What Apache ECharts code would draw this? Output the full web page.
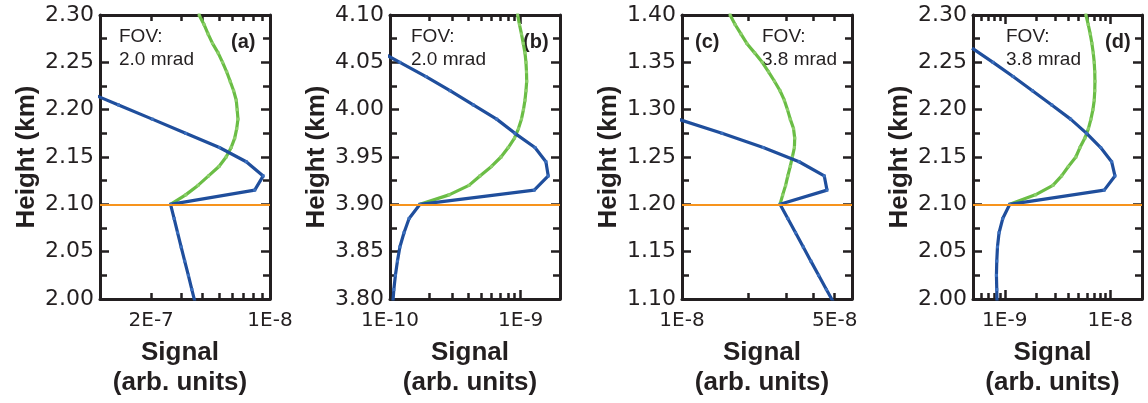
<!DOCTYPE html>
<html><head><meta charset="utf-8">
<script src="https://cdn.jsdelivr.net/npm/echarts@6/dist/echarts.min.js"></script>
<style>html,body{margin:0;padding:0;background:#fff}#c{width:1148px;height:403px}</style>
</head><body><div id="c"></div>
<script>
// ---------- Panel (a) ----------
const blueHeightA = [2.22, 2.205, 2.19, 2.175, 2.16, 2.145, 2.13, 2.115, 2.10, 2.085, 2.07, 2.055, 2.04, 2.025, 2.01, 1.995];
const blueSignalA = [8.1e-10, 1.285e-9, 2.03e-9, 3.19e-9, 5.04e-9, 7.25e-9, 9.12e-9, 8.13e-9, 2.6e-9, 2.73e-9, 2.86e-9, 3.00e-9, 3.15e-9, 3.31e-9, 3.47e-9, 3.64e-9];
const greenHeightA = [2.10, 2.11, 2.12, 2.13, 2.14, 2.15, 2.16, 2.17, 2.18, 2.19, 2.20, 2.21, 2.22, 2.23, 2.24, 2.25, 2.26, 2.27, 2.28, 2.29, 2.30];
const greenSignalA = [2.60e-9, 3.19e-9, 3.77e-9, 4.35e-9, 5.01e-9, 5.52e-9, 5.91e-9, 6.20e-9, 6.37e-9, 6.48e-9, 6.41e-9, 6.33e-9, 6.11e-9, 5.83e-9, 5.56e-9, 5.26e-9, 4.95e-9, 4.59e-9, 4.32e-9, 4.09e-9, 3.83e-9];
const xTickMinorA = [2e-9, 3e-9, 4e-9, 5e-9, 6e-9, 7e-9, 8e-9, 9e-9];
const xTickMajorA = [];
const xLabelValA = [2e-9, 1e-8];
const xLabelTextA = ['2E-7', '1E-8'];

// ---------- Panel (b) ----------
const blueHeightB = [4.065, 4.05, 4.035, 4.02, 4.005, 3.99, 3.975, 3.96, 3.945, 3.93, 3.915, 3.90, 3.885, 3.87, 3.855, 3.84, 3.825, 3.81, 3.795];
const blueSignalB = [7.54e-11, 1.19e-10, 1.886e-10, 2.88e-10, 4.34e-10, 6.55e-10, 9.04e-10, 1.286e-9, 1.56e-9, 1.626e-9, 1.27e-9, 1.696e-10, 1.40e-10, 1.28e-10, 1.19e-10, 1.14e-10, 1.10e-10, 1.07e-10, 1.05e-10];
const greenHeightB = [3.90, 3.91, 3.92, 3.93, 3.94, 3.95, 3.96, 3.97, 3.98, 3.99, 4.00, 4.01, 4.02, 4.03, 4.04, 4.05, 4.06, 4.07, 4.08, 4.09, 4.10];
const greenSignalB = [1.696e-10, 2.83e-10, 4.02e-10, 4.88e-10, 5.98e-10, 7.07e-10, 8.04e-10, 8.97e-10, 9.62e-10, 1.014e-9, 1.050e-9, 1.079e-9, 1.098e-9, 1.112e-9, 1.108e-9, 1.098e-9, 1.079e-9, 1.047e-9, 1.014e-9, 9.79e-10, 9.48e-10];
const xTickMinorB = [2e-10, 3e-10, 4e-10, 5e-10, 6e-10, 7e-10, 8e-10, 9e-10];
const xTickMajorB = [1e-9];
const xLabelValB = [1e-10, 1e-9];
const xLabelTextB = ['1E-10', '1E-9'];

// ---------- Panel (c) ----------
const blueHeightC = [1.29, 1.275, 1.26, 1.245, 1.23, 1.215, 1.20, 1.185, 1.17, 1.155, 1.14, 1.125, 1.11, 1.095];
const blueSignalC = [0.96e-8, 1.524e-8, 2.355e-8, 3.436e-8, 4.48e-8, 4.61e-8, 2.81e-8, 3.05e-8, 3.31e-8, 3.59e-8, 3.89e-8, 4.22e-8, 4.58e-8, 4.98e-8];
const greenHeightC = [1.20, 1.21, 1.22, 1.23, 1.24, 1.25, 1.26, 1.27, 1.28, 1.29, 1.30, 1.31, 1.32, 1.33, 1.34, 1.35, 1.36, 1.37, 1.38, 1.39, 1.40];
const greenSignalC = [2.81e-8, 2.89e-8, 2.98e-8, 3.05e-8, 3.13e-8, 3.20e-8, 3.27e-8, 3.28e-8, 3.24e-8, 3.13e-8, 3.04e-8, 2.94e-8, 2.81e-8, 2.65e-8, 2.49e-8, 2.33e-8, 2.15e-8, 1.98e-8, 1.86e-8, 1.75e-8, 1.66e-8];
const xTickMinorC = [2e-8, 3e-8, 4e-8, 5e-8];
const xTickMajorC = [];
const xLabelValC = [1e-8, 5e-8];
const xLabelTextC = ['1E-8', '5E-8'];

// ---------- Panel (d) ----------
const blueHeightD = [2.265, 2.25, 2.235, 2.22, 2.205, 2.19, 2.175, 2.16, 2.145, 2.13, 2.115, 2.10, 2.085, 2.07, 2.055, 2.04, 2.025, 2.01, 1.995];
const blueSignalD = [4.9e-10, 7.74e-10, 1.199e-9, 1.83e-9, 2.79e-9, 4.21e-9, 5.97e-9, 8.11e-9, 1.031e-8, 1.108e-8, 8.77e-9, 1.116e-9, 0.957e-9, 0.883e-9, 0.853e-9, 0.84e-9, 0.834e-9, 0.84e-9, 0.845e-9];
const greenHeightD = [2.10, 2.11, 2.12, 2.13, 2.14, 2.15, 2.16, 2.17, 2.18, 2.19, 2.20, 2.21, 2.22, 2.23, 2.24, 2.25, 2.26, 2.27, 2.28, 2.29, 2.30];
const greenSignalD = [1.116e-9, 1.95e-9, 2.86e-9, 3.46e-9, 4.01e-9, 4.72e-9, 5.16e-9, 5.75e-9, 6.21e-9, 6.56e-9, 6.85e-9, 7.05e-9, 7.13e-9, 7.16e-9, 7.13e-9, 7.05e-9, 6.90e-9, 6.70e-9, 6.46e-9, 6.18e-9, 5.88e-9];
const xTickMinorD = [6e-10, 7e-10, 8e-10, 9e-10, 2e-9, 3e-9, 4e-9, 5e-9, 6e-9, 7e-9, 8e-9, 9e-9];
const xTickMajorD = [1e-9, 1e-8];
const xLabelValD = [1e-9, 1e-8];
const xLabelTextD = ['1E-9', '1E-8'];

// ---------- Axis ranges, annotations ----------
const xMins = [1e-9, 1e-10, 1e-8, 5e-10];
const xMaxs = [1e-8, 2e-9, 6e-8, 2e-8];
const yMins = [2.00, 3.80, 1.10, 2.00];
const yMaxs = [2.30, 4.10, 1.40, 2.30];
const refHeights = [2.10, 3.90, 1.20, 2.10];
const fovTexts = ['2.0 mrad', '2.0 mrad', '3.8 mrad', '3.8 mrad'];
const panelLetters = ['(a)', '(b)', '(c)', '(d)'];
const xTitle = 'Signal\n(arb. units)';
const yTitle = 'Height (km)';

const panels = [
  {bh: blueHeightA, bs: blueSignalA, gh: greenHeightA, gs: greenSignalA, minor: xTickMinorA, major: xTickMajorA, lv: xLabelValA, lt: xLabelTextA},
  {bh: blueHeightB, bs: blueSignalB, gh: greenHeightB, gs: greenSignalB, minor: xTickMinorB, major: xTickMajorB, lv: xLabelValB, lt: xLabelTextB},
  {bh: blueHeightC, bs: blueSignalC, gh: greenHeightC, gs: greenSignalC, minor: xTickMinorC, major: xTickMajorC, lv: xLabelValC, lt: xLabelTextC},
  {bh: blueHeightD, bs: blueSignalD, gh: greenHeightD, gs: greenSignalD, minor: xTickMinorD, major: xTickMajorD, lv: xLabelValD, lt: xLabelTextD}
];

// ---------- Styling / layout ----------
const BLACK = '#231f20', BLUE = '#1f4e9c', GREEN = '#6abd45', ORANGE = '#f7941d';
const gridLeft = [100, 390, 682, 973];
const gridWidth = [170, 170, 170, 169];
const fovX = [119, 411, 762, 1006];
const letterX = [231, 523, 695, 1105];

const grids = [], xAxes = [], yAxes = [], series = [], graphics = [];

panels.forEach((p, i) => {
  grids.push({left: gridLeft[i], width: gridWidth[i], top: 15, height: 288});
  const baseX = {type: 'log', logBase: 10, min: xMins[i], max: xMaxs[i], gridIndex: i,
    splitLine: {show: false}, minorTick: {show: false}, minorSplitLine: {show: false}};
  const lineOn = {show: true, onZero: false, lineStyle: {color: BLACK, width: 3}};
  const lineOff = {show: false, onZero: false};
  const fmt = v => {
    for (let k = 0; k < p.lv.length; k++) if (Math.abs(v / p.lv[k] - 1) < 1e-6) return p.lt[k];
    return '';
  };
  const mainX = xAxes.length;
  xAxes.push(Object.assign({}, baseX, {position: 'bottom', axisLine: lineOn,
    axisTick: {show: true, inside: true, length: 6, lineStyle: {color: BLACK, width: 2.5}, customValues: p.minor},
    axisLabel: {show: true, margin: 12, customValues: p.lv, formatter: fmt, fontFamily: 'DejaVu Sans', fontSize: 20, color: BLACK},
    name: xTitle, nameLocation: 'middle', nameGap: 39,
    nameTextStyle: {fontFamily: 'Liberation Sans', fontWeight: 'bold', fontSize: 26, lineHeight: 30, color: BLACK, padding: [0, 10, 0, 0]}}));
  xAxes.push(Object.assign({}, baseX, {position: 'top', axisLine: lineOn,
    axisTick: {show: true, inside: true, length: 6, lineStyle: {color: BLACK, width: 2.5}, customValues: p.minor},
    axisLabel: {show: false}}));
  if (p.major.length) {
    ['bottom', 'top'].forEach(pos => xAxes.push(Object.assign({}, baseX, {position: pos, axisLine: lineOff,
      axisTick: {show: true, inside: true, length: 9, lineStyle: {color: BLACK, width: 2.5}, customValues: p.major},
      axisLabel: {show: false}})));
  }
  const baseY = {type: 'value', min: yMins[i], max: yMaxs[i], interval: 0.05, gridIndex: i,
    splitLine: {show: false}, axisLine: lineOn,
    axisTick: {show: true, inside: true, length: 9, lineStyle: {color: BLACK, width: 2.5}},
    minorTick: {show: true, splitNumber: 2, length: 7, lineStyle: {color: BLACK, width: 2.5}}};
  const mainY = yAxes.length;
  yAxes.push(Object.assign({}, baseY, {position: 'left',
    axisLabel: {show: true, margin: 6, formatter: v => v.toFixed(2), fontFamily: 'DejaVu Sans', fontSize: 22, color: BLACK},
    name: yTitle, nameLocation: 'middle', nameGap: 60, nameRotate: 90,
    nameTextStyle: {fontFamily: 'Liberation Sans', fontWeight: 'bold', fontSize: 26, color: BLACK}}));
  yAxes.push(Object.assign({}, baseY, {position: 'right', axisLabel: {show: false}}));

  series.push({type: 'line', xAxisIndex: mainX, yAxisIndex: mainY, data: [], z: 1, silent: true,
    markLine: {silent: true, symbol: 'none', label: {show: false}, animation: false,
      lineStyle: {color: ORANGE, width: 2, type: 'solid'}, data: [{yAxis: refHeights[i]}]}});
  series.push({type: 'line', xAxisIndex: mainX, yAxisIndex: mainY, z: 3,
    data: p.gs.map((s, k) => [s, p.gh[k]]), clip: true,
    lineStyle: {color: GREEN, width: 3.2}, itemStyle: {color: '#8ccf6a'}, symbol: 'rect', symbolSize: 3, showSymbol: true});
  series.push({type: 'line', xAxisIndex: mainX, yAxisIndex: mainY, z: 4,
    data: p.bs.map((s, k) => [s, p.bh[k]]), clip: true,
    lineStyle: {color: BLUE, width: 3.2}, itemStyle: {color: '#3b6fbf'}, symbol: 'rect', symbolSize: 3, showSymbol: true});

  graphics.push({type: 'text', x: fovX[i], y: 37, style: {text: 'FOV:', font: '19px "Liberation Sans"', fill: BLACK, textVerticalAlign: 'middle'}});
  graphics.push({type: 'text', x: fovX[i], y: 60, style: {text: fovTexts[i], font: '19px "Liberation Sans"', fill: BLACK, textVerticalAlign: 'middle'}});
  graphics.push({type: 'text', x: letterX[i], y: 42, style: {text: panelLetters[i], font: 'bold 20px "Liberation Sans"', fill: BLACK, textVerticalAlign: 'middle'}});
});

const chart = echarts.init(document.getElementById('c'), null, {renderer: 'canvas'});
chart.setOption({animation: false, backgroundColor: '#fff', grid: grids, xAxis: xAxes, yAxis: yAxes, series: series, graphic: graphics});
</script></body></html>
